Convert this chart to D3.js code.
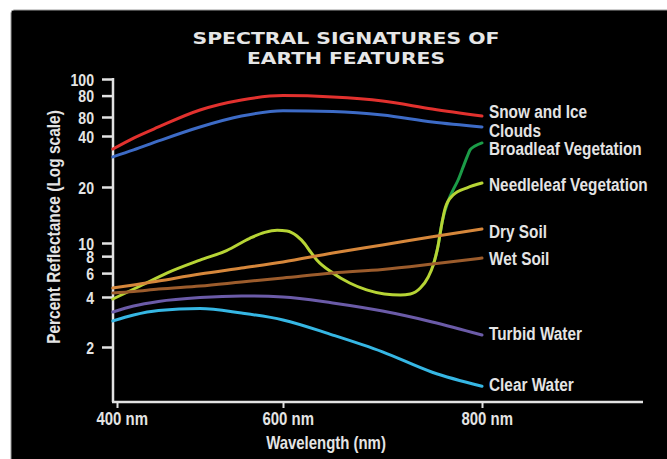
<!DOCTYPE html>
<html>
<head>
<meta charset="utf-8">
<script src="https://cdn.jsdelivr.net/npm/d3@7"></script>
<style>
    body { margin: 0; background: #fff; }
    svg { display: block; }
    .lbl { font-family: "Liberation Sans", Arial, sans-serif; font-weight: bold; fill: #e4e4e4; }
</style>
</head>
<body>
<svg id="chart" width="667" height="459"></svg>
<script>
// Wavelength grid (nm) shared by the smooth curves
const wavelengths = [395, 420, 450, 500, 550, 600, 650, 700, 750, 800];

// Reflectance (%)
const snowIce     = [33.5, 38.9, 48.5, 65.9, 75.4, 80.0, 78.5, 74.4, 66.8, 60.8];
const clouds      = [30.1, 33.1, 37.4, 48.5, 60.8, 65.3, 64.6, 61.6, 53.9, 48.5];
const drySoil     = [4.66, 4.90, 5.25, 5.91, 6.54, 7.25, 8.44, 9.67, 10.8, 11.9];
const wetSoil     = [4.28, 4.39, 4.58, 4.82, 5.16, 5.52, 6.01, 6.38, 7.00, 7.75];
const turbidWater = [3.25, 3.53, 3.76, 3.97, 4.07, 4.00, 3.68, 3.29, 2.83, 2.36];
const clearWater  = [2.87, 3.12, 3.32, 3.41, 3.20, 2.91, 2.36, 1.87, 1.41, 1.16];

// Vegetation curves need a finer grid
const needleleafWl = [395, 428, 460, 500, 532, 560, 578, 593, 604, 614, 622, 627, 634, 650,
                      667, 684, 702, 718, 728, 738, 746, 751, 756, 758, 760, 763, 771, 785, 800];
const needleleaf   = [3.89, 4.82, 6.01, 7.49, 8.80, 10.6, 11.4, 11.7, 11.6, 10.9, 9.83, 8.73, 7.49, 6.01,
                      5.07, 4.51, 4.21, 4.14, 4.21, 4.66, 5.62, 6.89, 9.67, 11.3, 13.0, 15.4, 18.1, 19.8, 21.1];
const broadleafWl  = [751, 756, 758, 760, 766, 771, 776, 781, 785, 788, 793, 800];
const broadleaf    = [6.89, 9.67, 11.3, 13.0, 16.8, 19.3, 22.0, 26.2, 30.1, 33.1, 34.9, 36.4];

// Series names, in drawing order (broadleaf under needleleaf)
const seriesNames = ["Snow and Ice", "Clouds", "Broadleaf Vegetation", "Needleleaf Vegetation",
                     "Dry Soil", "Wet Soil", "Turbid Water", "Clear Water"];

// Axis ticks
const xTicks = [400, 600, 800];
const yTicks = [100, 80, 60, 40, 20, 10, 8, 6, 4, 2];
const yTickLabels = ["100", "80", "80", "40", "20", "10", "8", "6", "4", "2"];

const titleLines = ["SPECTRAL SIGNATURES OF", "EARTH FEATURES"];

const series = [
    { name: seriesNames[0], wl: wavelengths, values: snowIce, color: "#e2312e", labelY: 111 },
    { name: seriesNames[1], wl: wavelengths, values: clouds, color: "#3d6bc6", labelY: 130 },
    { name: seriesNames[2], wl: broadleafWl, values: broadleaf, color: "#1c9c48", labelY: 148 },
    { name: seriesNames[3], wl: needleleafWl, values: needleleaf, color: "#b7d435", labelY: 184 },
    { name: seriesNames[4], wl: wavelengths, values: drySoil, color: "#d6873b", labelY: 231 },
    { name: seriesNames[5], wl: wavelengths, values: wetSoil, color: "#9c5c2c", labelY: 258 },
    { name: seriesNames[6], wl: wavelengths, values: turbidWater, color: "#6b5ba8", labelY: 333 },
    { name: seriesNames[7], wl: wavelengths, values: clearWater, color: "#36b7e4", labelY: 384 }
];

// the labels are a condensed face - squeeze regular glyphs horizontally
const squeeze = 0.83;

const svg = d3.select("#chart");

// Black panel
svg.append("rect")
    .attr("x", 11).attr("y", 10)
    .attr("width", 670).attr("height", 460)
    .attr("rx", 3)
    .attr("fill", "#000")
    .attr("stroke", "#9a9a9a")
    .attr("stroke-width", 1);

// Hand-drawn axes are not evenly spaced, so use piecewise scales
const xScale = d3.scaleLinear()
    .domain([400, 600, 800])
    .range([117, 283, 482]);

const yScale = d3.scaleLog()
    .domain([2, 4, 10, 20, 40, 60, 100])
    .range([347, 297, 243, 187, 136, 117, 79]);

const axisColor = "#e2e2e2";
const axisX = 113, axisY = 402;

// Title
svg.selectAll(".title")
    .data(titleLines)
    .join("text")
    .attr("class", "title")
    .attr("x", 346)
    .attr("y", (d, i) => 44 + i * 20)
    .attr("text-anchor", "middle")
    .attr("textLength", (d, i) => i === 0 ? 307 : 198)
    .attr("lengthAdjust", "spacingAndGlyphs")
    .attr("font-family", "'DejaVu Sans', sans-serif")
    .attr("font-weight", "bold")
    .attr("font-size", 15)
    .attr("fill", "#e6e6e6")
    .text(d => d);

// Y axis
const leftAxis = d3.axisLeft(yScale)
    .tickValues(yTicks)
    .tickSize(11)
    .tickSizeOuter(0)
    .tickFormat((d, i) => yTickLabels[i]);

const gy = svg.append("g")
    .attr("transform", `translate(${axisX},0)`)
    .call(leftAxis);
gy.select(".domain").remove();
gy.selectAll(".tick line").attr("stroke", axisColor).attr("stroke-width", 2.5);
gy.selectAll(".tick text")
    .attr("class", "lbl")
    .attr("font-size", 17)
    .attr("text-anchor", "end")
    .attr("x", 0).attr("y", 0)
    .attr("dy", "0.36em")
    .attr("transform", `translate(-19,0) scale(${squeeze},1)`);

svg.append("line")
    .attr("x1", axisX).attr("x2", axisX)
    .attr("y1", yScale(100) - 1).attr("y2", axisY)
    .attr("stroke", axisColor).attr("stroke-width", 2.5);

// X axis
const bottomAxis = d3.axisBottom(xScale)
    .tickValues(xTicks)
    .tickSize(6)
    .tickSizeOuter(0)
    .tickFormat(d => `${d} nm`);

const gx = svg.append("g")
    .attr("transform", `translate(0,${axisY})`)
    .call(bottomAxis);
gx.select(".domain").remove();
gx.selectAll(".tick line").attr("stroke", axisColor).attr("stroke-width", 2);
gx.selectAll(".tick text")
    .attr("class", "lbl")
    .attr("font-size", 18)
    .attr("text-anchor", "start")
    .attr("x", 0).attr("y", 0)
    .attr("dy", 0)
    .attr("transform", `translate(-21,23) scale(${squeeze},1)`);

svg.append("line")
    .attr("x1", axisX - 1).attr("x2", 643)
    .attr("y1", axisY).attr("y2", axisY)
    .attr("stroke", axisColor).attr("stroke-width", 2.5);

// Axis titles
svg.append("text")
    .attr("class", "lbl")
    .attr("font-size", 18)
    .attr("text-anchor", "middle")
    .attr("transform", "translate(60,227) rotate(-90) scale(0.86,1)")
    .text("Percent Reflectance (Log scale)");

svg.append("text")
    .attr("class", "lbl")
    .attr("font-size", 18)
    .attr("text-anchor", "middle")
    .attr("transform", `translate(326,449) scale(${squeeze},1)`)
    .text("Wavelength (nm)");

// Curves
const lineGen = d3.line()
    .x(d => xScale(d[0]))
    .y(d => yScale(d[1]))
    .curve(d3.curveMonotoneX);

svg.selectAll(".curve")
    .data(series)
    .join("path")
    .attr("class", "curve")
    .attr("d", d => lineGen(d.wl.map((w, i) => [w, d.values[i]])))
    .attr("fill", "none")
    .attr("stroke", d => d.color)
    .attr("stroke-width", 3)
    .attr("stroke-linecap", "round");

// Series labels at the right end
svg.selectAll(".series-label")
    .data(series)
    .join("text")
    .attr("class", "lbl series-label")
    .attr("font-size", 18.5)
    .attr("dy", "0.36em")
    .attr("transform", d => `translate(489,${d.labelY}) scale(${squeeze},1)`)
    .text(d => d.name);
</script>
</body>
</html>
